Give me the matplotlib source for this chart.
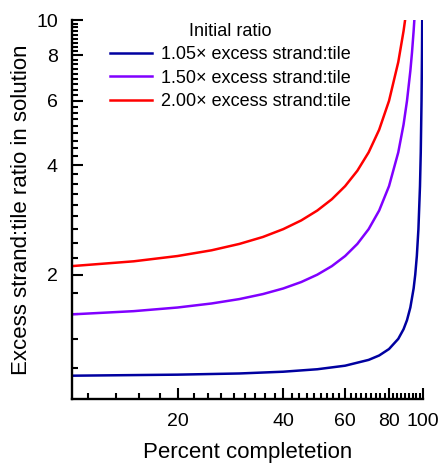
import numpy as np
import matplotlib
matplotlib.use("Agg")
import matplotlib.pyplot as plt
from matplotlib.ticker import FixedLocator, NullFormatter

plt.rcParams['font.family'] = ['Liberation Sans', 'DejaVu Sans']

# Percent completion vs. excess strand:tile ratio
pct_105 = [10, 20, 30, 40, 50, 60, 70, 75, 80, 85, 88, 90, 92, 94, 95, 96, 97,
           98, 98.5, 99, 99.3, 99.45, 99.5]
ratio_105 = [1.056, 1.063, 1.071, 1.083, 1.10, 1.125, 1.167, 1.20, 1.25, 1.333,
             1.417, 1.50, 1.625, 1.833, 2.0, 2.25, 2.667, 3.5, 4.333, 6.0, 8.14,
             10.09, 11.0]

pct_150 = [10, 15, 20, 25, 30, 35, 40, 45, 50, 55, 60, 65, 70, 75, 80, 85, 88,
           90, 92, 93, 94, 94.5, 95]
ratio_150 = [1.556, 1.588, 1.625, 1.667, 1.714, 1.769, 1.833, 1.909, 2.0, 2.111,
             2.25, 2.429, 2.667, 3.0, 3.5, 4.333, 5.167, 6.0, 7.25, 8.14, 9.33,
             10.09, 11.0]

pct_200 = [10, 15, 20, 25, 30, 35, 40, 45, 50, 55, 60, 65, 70, 75, 80, 85, 88,
           89, 90]
ratio_200 = [2.111, 2.176, 2.25, 2.333, 2.429, 2.538, 2.667, 2.818, 3.0, 3.222,
             3.5, 3.857, 4.333, 5.0, 6.0, 7.667, 9.333, 10.09, 11.0]

labels = ['1.05\u00d7 excess strand:tile',
          '1.50\u00d7 excess strand:tile',
          '2.00\u00d7 excess strand:tile']
colors = ['#0000a0', '#8000ff', '#ff0000']

x_major = [20, 40, 60, 80, 100]
y_major = [2, 4, 6, 8, 10]

fig = plt.figure(figsize=(4.43, 4.66), dpi=100)
ax = fig.add_axes([0.162, 0.144, 0.793, 0.813])

for x, y, lab, c in zip([pct_105, pct_150, pct_200],
                        [ratio_105, ratio_150, ratio_200], labels, colors):
    ax.plot(x, y, color=c, lw=1.8, label=lab)

ax.set_xscale('log')
ax.set_yscale('log')
ax.set_xlim(10, 100)
ax.set_ylim(0.912, 10)

# minor ticks every 1/9 of the major step
x_minor = [v for v in np.arange(1, 46) * 20 / 9 if 10 <= v <= 100 and v not in x_major]
y_minor = [v for v in np.arange(1, 46) * 2 / 9 if 0.912 <= v <= 10 and v not in y_major]
ax.xaxis.set_major_locator(FixedLocator(x_major))
ax.xaxis.set_minor_locator(FixedLocator(x_minor))
ax.yaxis.set_major_locator(FixedLocator(y_major))
ax.yaxis.set_minor_locator(FixedLocator(y_minor))
ax.set_xticklabels([str(v) for v in x_major])
ax.set_yticklabels([str(v) for v in y_major])
ax.xaxis.set_minor_formatter(NullFormatter())
ax.yaxis.set_minor_formatter(NullFormatter())

ax.tick_params(which='both', direction='in', width=1.5, labelsize=14, pad=10)
ax.tick_params(which='major', length=8)
ax.tick_params(which='minor', length=4)

for s in ['top', 'right']:
    ax.spines[s].set_visible(False)
for s in ['left', 'bottom']:
    ax.spines[s].set_linewidth(1.7)

ax.set_xlabel('Percent completetion', fontsize=16, labelpad=9)
ax.set_ylabel('Excess strand:tile ratio in solution', fontsize=16, labelpad=3)

leg = ax.legend(title='Initial ratio', loc='upper left', bbox_to_anchor=(0.063, 1.035),
                frameon=False, fontsize=13, title_fontsize=13,
                handlelength=2.3, handletextpad=0.5, labelspacing=0.35)

fig.savefig('out.png', dpi=100)
